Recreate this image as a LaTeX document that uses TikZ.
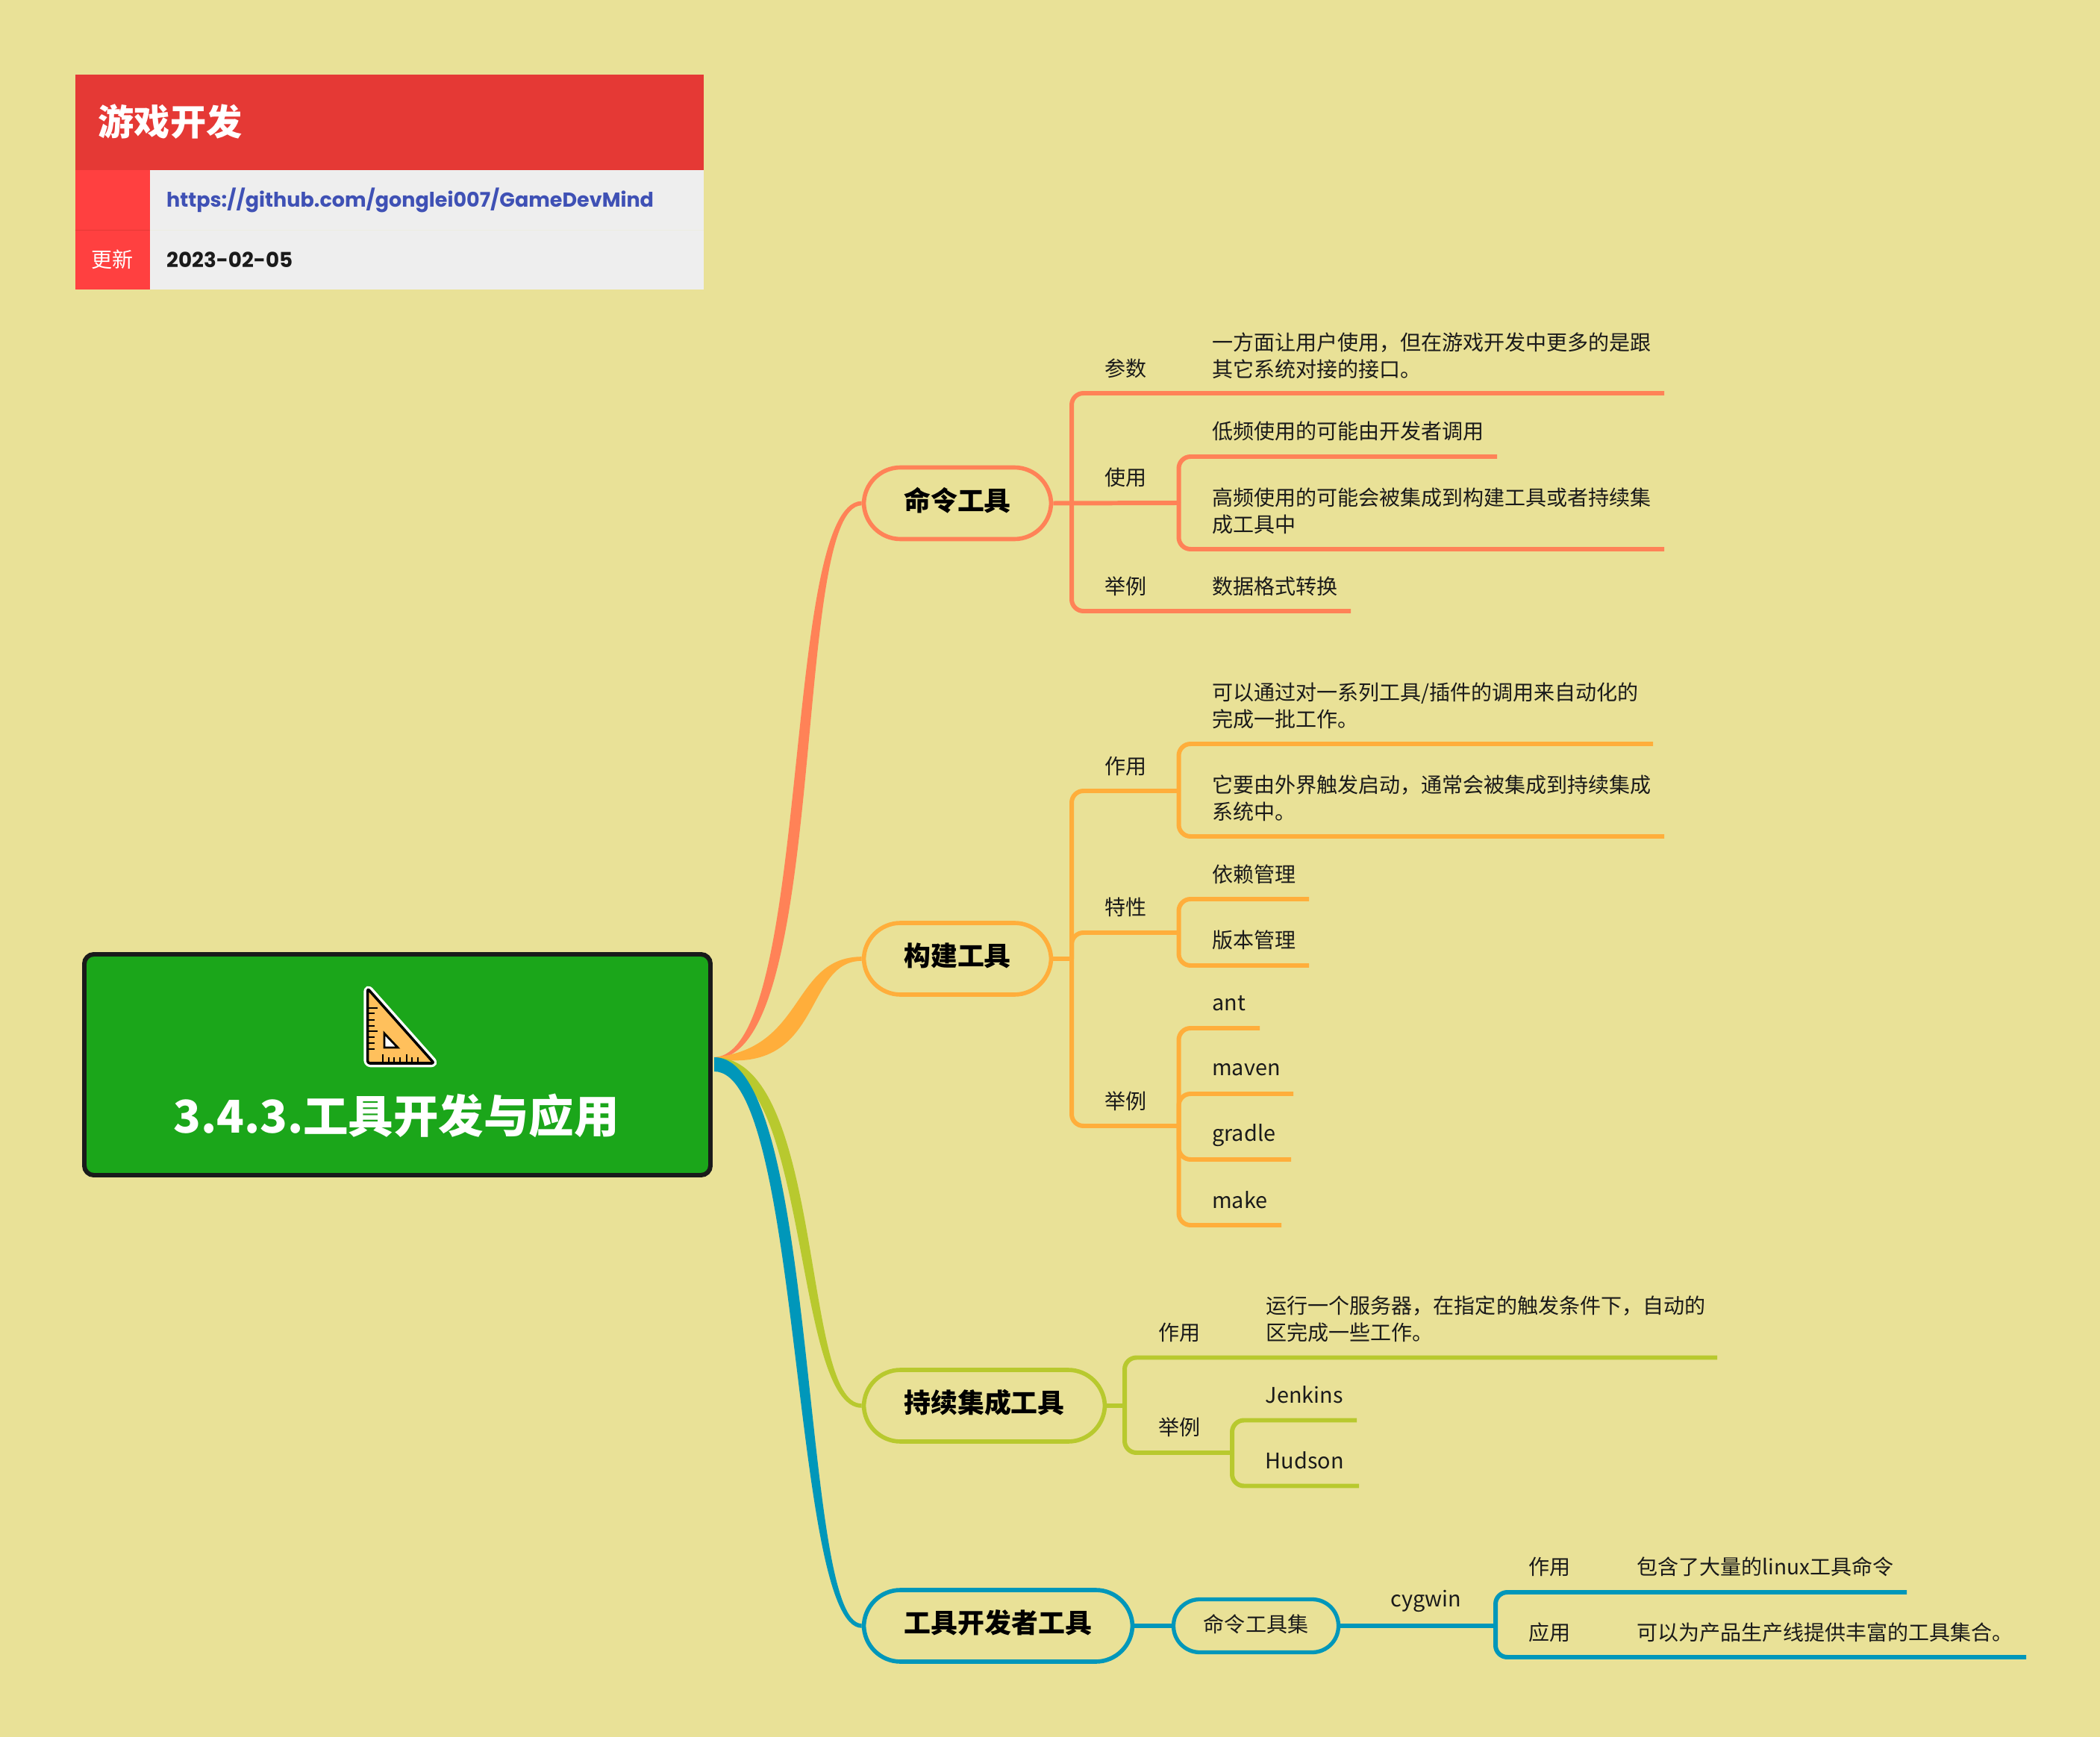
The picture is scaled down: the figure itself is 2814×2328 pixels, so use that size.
\documentclass[tikz,border=0pt]{standalone}
\usepackage{fontspec}
\setmainfont{Noto Sans CJK SC}
\newfontfamily\urlfont{Poppins}
\usetikzlibrary{positioning}
\definecolor{PageKhaki}{HTML}{E9E197}
\definecolor{HeadRed}{HTML}{E53935}
\definecolor{SideRed}{HTML}{FF4040}
\definecolor{RowGray}{HTML}{EEEEEE}
\definecolor{LinkBlue}{HTML}{3F51B5}
\definecolor{RootGreen}{HTML}{1BA61A}
\definecolor{InkBlack}{HTML}{1A1A1A}
\definecolor{Coral}{HTML}{FF8257}
\definecolor{Amber}{HTML}{FFAE3B}
\definecolor{Olive}{HTML}{B8C92E}
\definecolor{Teal}{HTML}{0097BA}
\definecolor{RulerGold}{HTML}{FFC05C}
\tikzset{
  topic/.style={draw=#1, line width=1.6pt, rounded corners=14pt, minimum height=96*0.01cm, inner sep=0pt,
    text height=8.5pt, text depth=3pt, font=\fontsize{10.2pt}{12pt}\selectfont\bfseries},
  twig/.style={draw=#1, line width=1.7pt, rounded corners=4.5pt},
  lbl/.style={anchor=west, inner sep=0pt, align=left, text=InkBlack, font=\fontsize{7.97pt}{10.24pt}\selectfont},
  latin/.style={anchor=west, inner sep=0pt, text=InkBlack, font=\fontsize{8.2pt}{10.24pt}\selectfont},
}
\begin{document}
\begin{tikzpicture}[x=0.01cm, y=-0.01cm]
  \path[use as bounding box, fill=PageKhaki] (0,0) rectangle (2814,2328);

  % title block
  \fill[HeadRed] (100.5,100) rectangle (943,228);
  \fill[SideRed] (100.5,228) rectangle (200.5,388);
  \fill[RowGray] (200.5,228) rectangle (943,388);
  \draw[HeadRed, line width=0.2pt] (100.5,308) -- (200.5,308);
  \draw[PageKhaki!15!RowGray, line width=0.2pt] (200.5,308) -- (943,308);
  \node[anchor=west, inner sep=0pt, text=white, font=\fontsize{13.7pt}{16pt}\selectfont\bfseries] (title) at (131,163) {游戏开发};
  \node[anchor=west, inner sep=0pt, text=LinkBlue, font=\urlfont\fontsize{7.68pt}{10pt}\selectfont\bfseries] (link) at (222.5,268) {https://github.com/gonglei007/GameDevMind};
  \node[anchor=west, inner sep=0pt, text=InkBlack, font=\urlfont\fontsize{7.9pt}{10pt}\selectfont\bfseries] (date) at (222.5,348) {2023-02-05};
  \node[inner sep=0pt, text=white, font=\fontsize{7.97pt}{10pt}\selectfont] (update) at (150.5,348) {更新};

  % tapered main branches
  \coordinate (hub) at (957,1418);
  \node[topic=Coral, minimum width=251*0.01cm] (cmd) at (1283,674.5) {命令工具};
  \node[topic=Amber, minimum width=251*0.01cm] (build) at (1283,1285) {构建工具};
  \node[topic=Olive, minimum width=323*0.01cm] (ci) at (1319,1884) {持续集成工具};
  \node[topic=Teal, minimum width=360*0.01cm] (dev) at (1337.5,2179) {工具开发者工具};
  \fill[Coral] (957,1417) .. controls (1088,1412) and (1047,672) .. ([yshift=0.8pt]cmd.west) -- ([yshift=-0.8pt]cmd.west) .. controls (1060,678) and (1112,1420) .. (957,1419) -- cycle;
  \fill[Amber] (957,1417) .. controls (1080,1405) and (1060,1283) .. ([yshift=0.8pt]build.west) -- ([yshift=-0.8pt]build.west) .. controls (1076,1288) and (1104,1442) .. (957,1419) -- cycle;
  \fill[Olive] (957,1417) .. controls (1105,1417) and (1074,1883) .. ([yshift=0.8pt]ci.west) -- ([yshift=-0.8pt]ci.west) .. controls (1063,1887) and (1085,1430) .. (957,1430) -- cycle;
  \fill[Teal] (957,1417) .. controls (1098,1417) and (1072,2176) .. ([yshift=0.8pt]dev.west) -- ([yshift=-0.8pt]dev.west) .. controls (1060,2182) and (1075,1436) .. (957,1436) -- cycle;

  % root
  \node[draw=InkBlack, fill=RootGreen, line width=1.7pt, rounded corners=3.6pt, minimum width=839*0.01cm, minimum height=296*0.01cm] (root) at (532.5,1427) {};
  \node[inner sep=0pt, text=white, font=\fontsize{17.2pt}{20pt}\selectfont\bfseries] (rootname) at (531,1495.5) {3.4.3.工具开发与应用};
  \filldraw[white, line width=3pt, line join=round, rounded corners=1pt] (492.7,1325) -- (581.7,1425) -- (492.7,1425) -- cycle;
  \filldraw[draw=black, fill=RulerGold, line width=1pt, line join=round, rounded corners=0.8pt] (492.7,1325) -- (581.7,1425) -- (492.7,1425) -- cycle;
  \filldraw[draw=black, fill=white, line width=0.8pt] (515,1385) -- (533,1404) -- (515,1404) -- cycle;
  \foreach \yy/\ll in {1351/13,1358/9,1367/9,1375/9,1382/13,1390/9,1398/9,1406/9}
    \draw[black, line width=0.6pt] (492.7,\yy) -- ++(\ll,0);
  \foreach \xx/\ll in {512.7/12,520.7/8,528/8,536/8,545/12,552/8,560/8}
    \draw[black, line width=0.6pt] (\xx,1425) -- ++(0,-\ll);

  % command tools
  \node[lbl] (cmdA) at (1480,494) {参数};
  \node[lbl] (cmdAa) at (1623.5,477) {一方面让用户使用，但在游戏开发中更多的是跟\\其它系统对接的接口。};
  \node[lbl] (cmdB) at (1480,640) {使用};
  \node[lbl] (cmdBa) at (1623.5,578) {低频使用的可能由开发者调用};
  \node[lbl] (cmdBb) at (1623.5,685) {高频使用的可能会被集成到构建工具或者持续集\\成工具中};
  \node[lbl] (cmdC) at (1480,786) {举例};
  \node[lbl] (cmdCa) at (1623.5,786) {数据格式转换};
  \coordinate (cmdfork) at (1436,674);
  \coordinate (cmdsub) at (1579.5,674);
  \coordinate (cmdAend) at (2230,527);
  \coordinate (cmdBaend) at (2006,612);
  \coordinate (cmdBbend) at (2230,736);
  \coordinate (cmdCend) at (1810,819);
  \draw[twig=Coral] (cmd.east) -- (cmdsub);
  \draw[twig=Coral] (cmdfork) |- (cmdAend);
  \draw[twig=Coral] (cmdfork) |- (cmdCend);
  \draw[twig=Coral] (cmdsub) |- (cmdBaend);
  \draw[twig=Coral] (cmdsub) |- (cmdBbend);

  % build tools
  \node[lbl] (buildA) at (1480,1027) {作用};
  \node[lbl] (buildAa) at (1623.5,946) {可以通过对一系列工具/插件的调用来自动化的\\完成一批工作。};
  \node[lbl] (buildAb) at (1623.5,1070) {它要由外界触发启动，通常会被集成到持续集成\\系统中。};
  \node[lbl] (buildB) at (1480,1215.5) {特性};
  \node[lbl] (buildBa) at (1623.5,1172) {依赖管理};
  \node[lbl] (buildBb) at (1623.5,1260) {版本管理};
  \node[lbl] (buildC) at (1480,1476) {举例};
  \node[latin] (buildCa) at (1623.5,1345) {ant};
  \node[latin] (buildCb) at (1623.5,1434) {maven};
  \node[latin] (buildCc) at (1623.5,1522) {gradle};
  \node[latin] (buildCd) at (1623.5,1608) {make};
  \coordinate (buildfork) at (1436,1285);
  \coordinate (buildAsub) at (1579.5,1060);
  \coordinate (buildBsub) at (1579.5,1250);
  \coordinate (buildCsub) at (1579.5,1509);
  \coordinate (buildAaend) at (2215,997);
  \coordinate (buildAbend) at (2230,1121);
  \coordinate (buildBaend) at (1754,1205);
  \coordinate (buildBbend) at (1754,1294);
  \coordinate (buildCaend) at (1688,1378);
  \coordinate (buildCbend) at (1733,1466);
  \coordinate (buildCcend) at (1730,1554);
  \coordinate (buildCdend) at (1717,1642);
  \draw[twig=Amber] (build.east) -- (buildfork);
  \draw[twig=Amber] (buildfork) |- (buildAsub);
  \draw[twig=Amber] (buildfork) |- (buildCsub);
  \draw[twig=Amber] (buildfork) |- (buildBsub);
  \draw[twig=Amber] (buildAsub) |- (buildAaend);
  \draw[twig=Amber] (buildAsub) |- (buildAbend);
  \draw[twig=Amber] (buildBsub) |- (buildBaend);
  \draw[twig=Amber] (buildBsub) |- (buildBbend);
  \draw[twig=Amber] (buildCsub) |- (buildCaend);
  \draw[twig=Amber] (buildCsub) |- (buildCbend);
  \draw[twig=Amber] (buildCsub) |- (buildCcend);
  \draw[twig=Amber] (buildCsub) |- (buildCdend);

  % integration tools
  \node[lbl] (ciA) at (1552,1785.5) {作用};
  \node[lbl] (ciAa) at (1696,1767.5) {运行一个服务器，在指定的触发条件下，自动的\\区完成一些工作。};
  \node[lbl] (ciB) at (1552,1913) {举例};
  \node[latin] (ciBa) at (1695,1869) {Jenkins};
  \node[latin] (ciBb) at (1695,1957) {Hudson};
  \coordinate (cifork) at (1507,1884);
  \coordinate (ciAend) at (2301,1819.5);
  \coordinate (cisub) at (1651,1947);
  \coordinate (ciBaend) at (1818,1903.5);
  \coordinate (ciBbend) at (1821,1991.5);
  \draw[twig=Olive] (ci.east) -- (cifork);
  \draw[twig=Olive] (cifork) |- (ciAend);
  \draw[twig=Olive] (cifork) |- (cisub);
  \draw[twig=Olive] (cisub) |- (ciBaend);
  \draw[twig=Olive] (cisub) |- (ciBbend);

  % developer tools
  \node[draw=Teal, line width=1.5pt, rounded corners=10pt, minimum width=221*0.01cm, minimum height=71*0.01cm, inner sep=0pt, text height=7pt, text depth=2.4pt, text=InkBlack, font=\fontsize{7.97pt}{10pt}\selectfont] (cmdset) at (1683,2179) {命令工具集};
  \node[latin] (cygwin) at (1863,2146) {cygwin};
  \node[lbl] (setA) at (2048,2099.5) {作用};
  \node[lbl] (setAa) at (2192.5,2099.5) {包含了大量的linux工具命令};
  \node[lbl] (setB) at (2048,2187.5) {应用};
  \node[lbl] (setBa) at (2192.5,2187.5) {可以为产品生产线提供丰富的工具集合。};
  \coordinate (setfork) at (2004,2179);
  \coordinate (setAend) at (2555,2134);
  \coordinate (setBend) at (2715,2221);
  \draw[twig=Teal] (dev.east) -- (cmdset.west);
  \draw[twig=Teal] (cmdset.east) -- (setfork);
  \draw[twig=Teal] (setfork) |- (setAend);
  \draw[twig=Teal] (setfork) |- (setBend);
\end{tikzpicture}
\end{document}
